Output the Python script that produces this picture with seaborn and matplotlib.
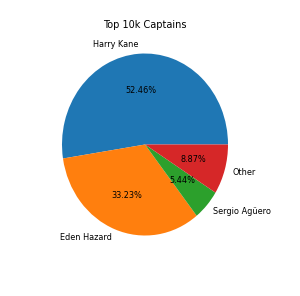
import matplotlib
matplotlib.use("Agg")
import matplotlib.pyplot as plt
import seaborn as sns

players = ["Harry Kane", "Eden Hazard", "Sergio Agüero", "Other"]
shares = [52.46, 33.23, 5.44, 8.87]

sns.set_style("white")
plt.rcParams["font.family"] = ["DejaVu Sans"]
plt.rcParams["text.color"] = "black"
colors = sns.color_palette("tab10", len(players))

fig = plt.figure(figsize=(3, 2.96), dpi=100)
ax = fig.add_axes([0.1375, 0.1275, 0.6917, 0.7686])
ax.pie(shares, labels=players, autopct="%.2f%%", colors=colors,
       wedgeprops={"linewidth": 0}, textprops={"fontsize": 5.85, "color": "black"})
# old-style pie: not forced to a circle
ax.set_aspect("auto")
ax.set_xlim(-1.25, 1.25)
ax.set_ylim(-1.25, 1.25)
ax.set_title("Top 10k Captains", fontsize=7.0, pad=2, color="black")
fig.savefig("out.png", dpi=100)
